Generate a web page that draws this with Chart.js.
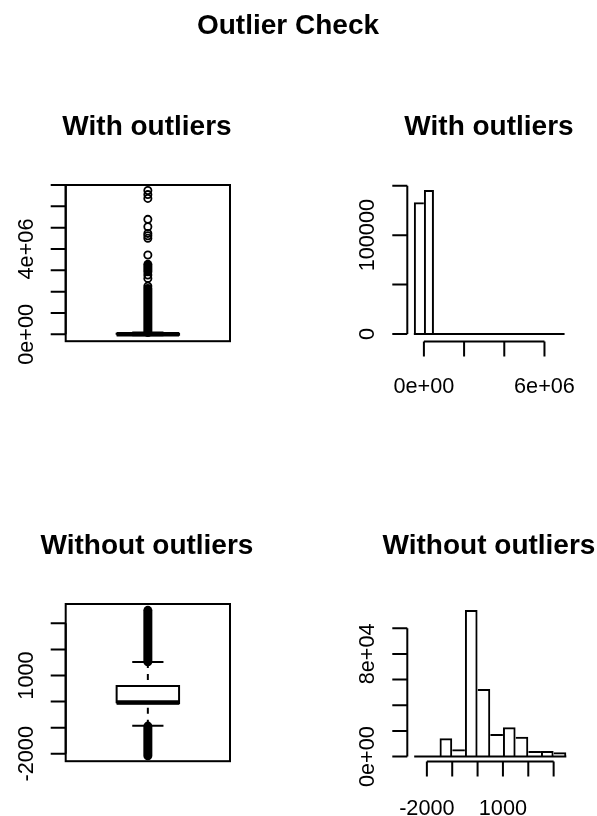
<!DOCTYPE html>
<html>
<head>
<meta charset="utf-8">
<title>Outlier Check</title>
<script src="https://cdn.jsdelivr.net/npm/chart.js@4.4.1/dist/chart.umd.min.js"></script>
<style>
  body { margin: 0; background: #fff; }
  #page { position: relative; width: 597px; height: 816px; overflow: hidden; font-family: "Liberation Sans", Arial, sans-serif; }
  #page canvas { position: absolute; }
  .title { position: absolute; width: 300px; text-align: center; font-weight: bold; font-size: 28px; line-height: 28px; color: #000; white-space: nowrap; }
</style>
</head>
<body>
<div id="page">
  <canvas id="boxWith" width="298" height="408" style="left:0;top:0"></canvas>
  <canvas id="histWith" width="299" height="408" style="left:298px;top:0"></canvas>
  <canvas id="boxWithout" width="298" height="408" style="left:0;top:408px"></canvas>
  <canvas id="histWithout" width="299" height="408" style="left:298px;top:408px"></canvas>
  <div class="title" style="left:138px;top:11.3px">Outlier Check</div>
  <div class="title" style="left:-3px;top:112.3px">With outliers</div>
  <div class="title" style="left:339px;top:112.3px">With outliers</div>
  <div class="title" style="left:-3px;top:531.3px">Without outliers</div>
  <div class="title" style="left:339px;top:531.3px">Without outliers</div>
</div>
<script>
// --- data ---

// boxplot, with outliers: lower whisker, Q1, median, Q3, upper whisker
var boxWithStats = [-50000, -20000, 0, 30000, 80000];
var boxWithOutliers = [2260000, 2620000, 2780000, 3720000, 4500000, 4620000, 4730000, 5040000, 5390000, 6370000, 6550000, 6740000];
// ranges where the outlier circles overlap into a solid column
var boxWithDense = [[80000, 2150000], [2930000, 3280000]];
var boxWithTicks = [0, 1e6, 2e6, 3e6, 4e6, 5e6, 6e6, 7e6];
var boxWithTickLabels = ['0e+00', '', '', '', '4e+06', '', '', ''];

// histogram, with outliers
var histWithBreaks = [-0.5e6, 0, 0.5e6, 1e6, 1.5e6, 2e6, 2.5e6, 3e6, 3.5e6, 4e6, 4.5e6, 5e6, 5.5e6, 6e6, 6.5e6, 7e6];
var histWithCounts = [133200, 145700, 410, 190, 85, 60, 22, 9, 5, 6, 3, 4, 2, 0, 2];
var histWithXTicks = [0, 2e6, 4e6, 6e6];
var histWithXLabels = ['0e+00', '', '', '6e+06'];
var histWithYTicks = [0, 50000, 100000, 150000];
var histWithYLabels = ['0', '', '100000', ''];

// boxplot, without outliers
var boxWithoutStats = [-924, -60, -30, 595, 1515];
var boxWithoutOutliers = [];
var boxWithoutDense = [[-2075, -940], [1530, 3500]];
var boxWithoutTicks = [-2000, -1000, 0, 1000, 2000, 3000];
var boxWithoutTickLabels = ['-2000', '', '', '1000', '', ''];

// histogram, without outliers
var histWithoutBreaks = [-2500, -2000, -1500, -1000, -500, 0, 500, 1000, 1500, 2000, 2500, 3000, 3500];
var histWithoutCounts = [60, 400, 14250, 5690, 114190, 52650, 17600, 22820, 15500, 4360, 4360, 3350];
var histWithoutXTicks = [-2000, -1000, 0, 1000, 2000, 3000];
var histWithoutXLabels = ['-2000', '', '', '1000', '', ''];
var histWithoutYTicks = [0, 20000, 40000, 60000, 80000, 100000];
var histWithoutYLabels = ['0e+00', '', '', '', '8e+04', ''];

// --- drawing ---

var TICK_FONT = '21.7px "Liberation Sans", Arial, sans-serif';
var TICK_LEN = 15;
var LINE = 2;

// R style axes: line only between first and last tick, ticks pointing out
function rAxes(spec) {
    return {
        id: 'rAxes',
        afterDraw: function(chart) {
            var ctx = chart.ctx, a = chart.chartArea;
            ctx.save();
            ctx.strokeStyle = '#000';
            ctx.fillStyle = '#000';
            ctx.lineWidth = LINE;
            ctx.font = TICK_FONT;
            if (spec.frame) {
                ctx.strokeRect(a.left, a.top, a.right - a.left, a.bottom - a.top);
            }
            if (spec.x) {
                var sx = chart.scales.x, y0 = a.bottom;
                var px = spec.x.ticks.map(function(v) { return sx.getPixelForValue(v); });
                ctx.beginPath();
                ctx.moveTo(px[0], y0);
                ctx.lineTo(px[px.length - 1], y0);
                px.forEach(function(p) { ctx.moveTo(p, y0); ctx.lineTo(p, y0 + TICK_LEN); });
                ctx.stroke();
                ctx.textAlign = 'center';
                ctx.textBaseline = 'alphabetic';
                spec.x.labels.forEach(function(t, i) {
                    if (t) ctx.fillText(t, px[i], y0 + spec.x.gap);
                });
            }
            if (spec.y) {
                var sy = chart.scales.y, x0 = a.left;
                var py = spec.y.ticks.map(function(v) { return sy.getPixelForValue(v); });
                ctx.beginPath();
                ctx.moveTo(x0, py[0]);
                ctx.lineTo(x0, py[py.length - 1]);
                py.forEach(function(p) { ctx.moveTo(x0, p); ctx.lineTo(x0 - TICK_LEN, p); });
                ctx.stroke();
                spec.y.labels.forEach(function(t, i) {
                    if (!t) return;
                    ctx.save();
                    ctx.translate(x0 - spec.y.gap, py[i]);
                    ctx.rotate(-Math.PI / 2);
                    ctx.textAlign = 'center';
                    ctx.textBaseline = 'alphabetic';
                    ctx.fillText(t, 0, 0);
                    ctx.restore();
                });
            }
            ctx.restore();
        }
    };
}

function baseOptions(pad, xr, yr) {
    return {
        responsive: false,
        animation: false,
        devicePixelRatio: 1,
        events: [],
        layout: { padding: pad },
        plugins: { legend: { display: false }, tooltip: { enabled: false } },
        scales: {
            x: { type: 'linear', min: xr[0], max: xr[1], offset: false, display: false },
            y: { type: 'linear', min: yr[0], max: yr[1], display: false }
        }
    };
}

function seg(points, extra) {
    var ds = {
        data: points,
        showLine: true,
        pointRadius: 0,
        borderColor: '#000',
        borderWidth: LINE,
        borderJoinStyle: 'miter',
        fill: false
    };
    for (var k in extra) ds[k] = extra[k];
    return ds;
}

function boxChart(id, stats, outliers, dense, ticks, labels, yr, pad) {
    var lo = stats[0], q1 = stats[1], med = stats[2], q3 = stats[3], hi = stats[4];
    var bw = 0.19, sw = 0.095;
    var datasets = [
        seg([{x: 1 - bw, y: q1}, {x: 1 + bw, y: q1}, {x: 1 + bw, y: q3}, {x: 1 - bw, y: q3}, {x: 1 - bw, y: q1}]),
        seg([{x: 1, y: hi}, {x: 1, y: q3}], {borderDash: [6, 6]}),
        seg([{x: 1, y: lo}, {x: 1, y: q1}], {borderDash: [6, 6]}),
        seg([{x: 1 - sw, y: hi}, {x: 1 + sw, y: hi}]),
        seg([{x: 1 - sw, y: lo}, {x: 1 + sw, y: lo}])
    ];
    dense.forEach(function(d) {
        datasets.push(seg([{x: 1, y: d[0]}, {x: 1, y: d[1]}], {borderWidth: 9, borderCapStyle: 'round'}));
    });
    datasets.push({
        data: outliers.map(function(v) { return {x: 1, y: v}; }),
        pointRadius: 3.6,
        pointBorderWidth: 1.8,
        pointBackgroundColor: 'rgba(0,0,0,0)',
        pointBorderColor: '#000'
    });
    datasets.push(seg([{x: 1 - bw, y: med}, {x: 1 + bw, y: med}], {borderWidth: 4.5}));

    new Chart(document.getElementById(id), {
        type: 'scatter',
        data: { datasets: datasets },
        options: baseOptions(pad, [0.5, 1.5], yr),
        plugins: [rAxes({ frame: true, y: { ticks: ticks, labels: labels, gap: 33 } })]
    });
}

function histChart(id, breaks, counts, xTicks, xLabels, yTicks, yLabels, xr, yr, pad, xGap) {
    var n = counts.length;
    var bars = counts.map(function(c, i) { return {x: (breaks[i] + breaks[i + 1]) / 2, y: c}; });

    new Chart(document.getElementById(id), {
        type: 'bar',
        data: {
            datasets: [{
                type: 'bar',
                data: bars,
                backgroundColor: 'rgba(0,0,0,0)',
                borderColor: '#000',
                borderSkipped: false,
                inflateAmount: 0,
                barPercentage: 1,
                categoryPercentage: 1,
                barThickness: 'flex',
                // shared edges are drawn once, by the taller bar
                borderWidth: function(c) {
                    var i = c.dataIndex;
                    return {
                        top: LINE,
                        bottom: 0,
                        left: (i === 0 || counts[i] >= counts[i - 1]) ? LINE : 0,
                        right: (i === n - 1 || counts[i] > counts[i + 1]) ? LINE : 0
                    };
                }
            }, {
                type: 'line',
                data: [{x: breaks[0], y: 0}, {x: breaks[n], y: 0}],
                borderColor: '#000',
                borderWidth: LINE,
                pointRadius: 0
            }]
        },
        options: baseOptions(pad, xr, yr),
        plugins: [rAxes({
            x: { ticks: xTicks, labels: xLabels, gap: xGap },
            y: { ticks: yTicks, labels: yLabels, gap: 33 }
        })]
    });
}

boxChart('boxWith', boxWithStats, boxWithOutliers, boxWithDense, boxWithTicks, boxWithTickLabels,
    [-323500, 7000000], {left: 65.7, right: 68, top: 185, bottom: 66.8});

histChart('histWith', histWithBreaks, histWithCounts, histWithXTicks, histWithXLabels, histWithYTicks, histWithYLabels,
    [-826000, 7300000], [-7587, 151530], {left: 109.3, right: 26.4, top: 184.2, bottom: 66.5}, 51);

boxChart('boxWithout', boxWithoutStats, boxWithoutOutliers, boxWithoutDense, boxWithoutTicks, boxWithoutTickLabels,
    [-2286, 3743], {left: 65.7, right: 68, top: 196, bottom: 54.8});

histChart('histWithout', histWithoutBreaks, histWithoutCounts, histWithoutXTicks, histWithoutXLabels, histWithoutYTicks, histWithoutYLabels,
    [-2772, 3740], [-3817, 118780], {left: 109.3, right: 24.6, top: 196.1, bottom: 54.5}, 53.5);
</script>
</body>
</html>
